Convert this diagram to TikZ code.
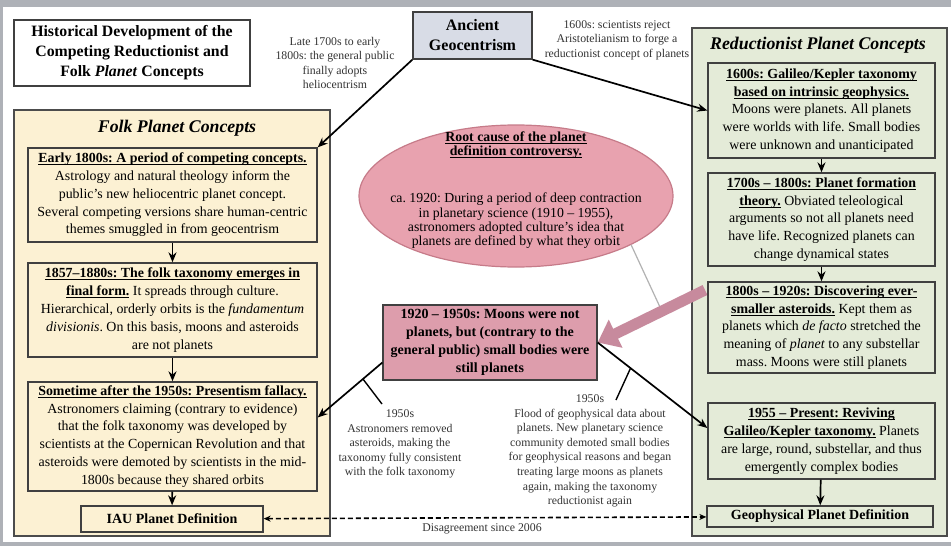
\documentclass[tikz,border=0pt]{standalone}
\usepackage{fontspec}
\setmainfont{Liberation Serif}
\usetikzlibrary{arrows.meta,shapes.geometric,calc}
\definecolor{frame}{HTML}{AEB1B7}
\definecolor{folk}{HTML}{FCF1D3}
\definecolor{redu}{HTML}{E4EBD8}
\definecolor{geocol}{HTML}{D8DCE6}
\definecolor{rose}{HTML}{E8A2AF}
\definecolor{roseline}{HTML}{C67B89}
\definecolor{rosebox}{HTML}{DD9DAC}
\definecolor{rosearrow}{HTML}{C78A9D}
\newsavebox{\hdbox}
\newcommand{\hd}[1]{\sbox{\hdbox}{\textbf{#1}}\rlap{\rule[-2.4pt]{\wd\hdbox}{0.8pt}}\usebox{\hdbox}}
\frenchspacing
\begin{document}
\begin{tikzpicture}[x=1pt,y=-1pt,
  panel/.style={draw=black!70,line width=1.2pt,inner sep=0pt},
  box/.style={draw=black!75,line width=1.3pt,align=center,inner sep=1.5pt,
    font=\fontsize{13.9}{17.8}\selectfont},
  folkbox/.style={box,fill=folk,minimum width=289},
  redubox/.style={box,fill=redu,minimum width=227},
  defbox/.style={box,font=\fontsize{14}{16}\selectfont\bfseries,inner sep=1pt},
  note/.style={align=center,text=black!80,font=\fontsize{11.8}{14.6}\selectfont},
  ptitle/.style={font=\fontsize{17.8}{20}\selectfont\bfseries\itshape},
  arr/.style={-{Stealth[length=10pt,width=8pt]},line width=1.7pt},
  tick/.style={line width=1.4pt}]
\fill[frame] (0,0) rectangle (951,546);
\fill[white] (3,7) rectangle (951,542);
\node[panel,fill=folk,minimum width=316,minimum height=426] (folk) at (172,323) {};
\node[panel,fill=redu,minimum width=255,minimum height=508] (redu) at (819.5,282) {};
\node[box,fill=white,minimum width=236,minimum height=66,
  font=\fontsize{15.8}{20}\selectfont\bfseries] (title) at (132,53)
  {Historical Development of the\\Competing Reductionist and\\Folk \textit{Planet} Concepts};
\node[box,fill=geocol,minimum width=119,minimum height=47,
  font=\fontsize{16}{20}\selectfont\bfseries] (geo) at (472.5,35.5) {Ancient\\Geocentrism};
\node[note] (adopt) at (335,63) {Late 1700s to early\\1800s: the general public\\finally adopts\\heliocentrism};
\node[note] (reject) at (617,40) {1600s: scientists reject\\Aristotelianism to forge a\\reductionist concept of planets};
\node[ptitle] (folkttl) at (177,128) {Folk Planet Concepts};
\node[ptitle] (reduttl) at (818,45) {Reductionist Planet Concepts};
\node[folkbox,minimum height=94] (f1) at (172.5,195)
  {\hd{Early 1800s: A period of competing concepts.}\\
   Astrology and natural theology inform the\\
   public's new heliocentric planet concept.\\
   Several competing versions share human-centric\\
   themes smuggled in from geocentrism};
\node[folkbox,minimum height=94] (f2) at (172.5,310)
  {\hd{1857–1880s: The folk taxonomy emerges in}\\
   \hd{final form.} It spreads through culture.\\
   Hierarchical, orderly orbits is the \textit{fundamentum}\\
   \textit{divisionis}. On this basis, moons and asteroids\\
   are not planets};
\node[folkbox,minimum height=109] (f3) at (172.5,436.5)
  {\hd{Sometime after the 1950s: Presentism fallacy.}\\
   Astronomers claiming (contrary to evidence)\\
   that the folk taxonomy was developed by\\
   scientists at the Copernican Revolution and that\\
   asteroids were demoted by scientists in the mid-\\
   1800s because they shared orbits};
\node[defbox,fill=folk,minimum width=182,minimum height=26] (iau) at (172,519) {IAU Planet Definition};
\coordinate (pk) at (705,290);
\coordinate (hit) at ($(pk)!0.4!(597,342.5)$);
\node[draw=roseline,line width=1.2pt,fill=rose,ellipse,minimum width=314,minimum height=142] (ell) at (516,196) {};
\node[align=center,font=\fontsize{13.8}{14.3}\selectfont] (elltxt) at (516,190)
  {\hd{Root cause of the planet}\\
   \hd{definition controversy.}\\[33pt]
   ca. 1920: During a period of deep contraction\\
   in planetary science (1910 – 1955),\\
   astronomers adopted culture's idea that\\
   planets are defined by what they orbit};
\draw[black!30,line width=1.2pt] (ell.-23) -- (hit);
\node[box,fill=rosebox,minimum width=214,minimum height=75,
  font=\fontsize{14}{17.8}\selectfont\bfseries] (mid) at (490,342.5)
  {1920 – 1950s: Moons were not\\planets, but (contrary to the\\general public) small bodies were\\still planets};
\draw[rosearrow,line width=11pt,-{Triangle[length=20pt,width=30pt]}] (pk) -- (mid.east);
\node[redubox,minimum height=95] (r1) at (821.5,110.5)
  {\hd{1600s: Galileo/Kepler taxonomy}\\
   \hd{based on intrinsic geophysics.}\\
   Moons were planets. All planets\\
   were worlds with life. Small bodies\\
   were unknown and unanticipated};
\node[redubox,minimum height=93] (r2) at (821.5,219.5)
  {\hd{1700s – 1800s: Planet formation}\\
   \hd{theory.} Obviated teleological\\
   arguments so not all planets need\\
   have life. Recognized planets can\\
   change dynamical states};
\node[redubox,minimum height=91] (r3) at (821.5,327.5)
  {\hd{1800s – 1920s: Discovering ever-}\\
   \hd{smaller asteroids.} Kept them as\\
   planets which \textit{de facto} stretched the\\
   meaning of \textit{planet} to any substellar\\
   mass. Moons were still planets};
\node[redubox,minimum height=76] (r4) at (821.5,441)
  {\hd{1955 – Present: Reviving}\\
   \hd{Galileo/Kepler taxonomy.} Planets\\
   are large, round, substellar, and thus\\
   emergently complex bodies};
\node[defbox,fill=redu,minimum width=226,minimum height=21] (gdef) at (820,516.5) {Geophysical Planet Definition};
\node[note] (removed) at (400,444) {1950s\\Astronomers removed\\asteroids, making the\\taxonomy fully consistent\\with the folk taxonomy};
\node[note] (flood) at (590,451) {1950s\\Flood of geophysical data about\\planets. New planetary science\\community demoted small bodies\\for geophysical reasons and began\\treating large moons as planets\\again, making the taxonomy\\reductionist again};
\node[note] (disagree) at (482,529) {Disagreement since 2006};
\coordinate (ml) at ([yshift=-20pt]mid.west);
\coordinate (f3e) at ([yshift=19pt]f3.east);
\coordinate (r4w) at ([yshift=13pt]r4.west);
\coordinate (t1) at (382,404);
\coordinate (t2) at (616,400);
\draw[arr] (geo.south west) -- (f1.north east);
\draw[arr] (geo.south east) -- (r1.west);
\draw[arr] (ml) -- (f3e);
\draw[arr] (mid.east) -- (r4w);
\draw[tick] ($(ml)!0.3!(f3e)$) -- (t1);
\draw[tick] ($(mid.east)!0.3!(r4w)$) -- (t2);
\draw[arr] (f1) -- (f2);
\draw[arr] (f2) -- (f3);
\draw[arr] (f3) -- (iau);
\draw[arr] (r1) -- (r2);
\draw[arr] (r2) -- (r3);
\draw[arr] (r4) -- (gdef);
\draw[{Stealth[length=7pt,width=6pt]}-{Stealth[length=7pt,width=6pt]},line width=1.6pt,dash pattern=on 5pt off 3pt] (iau) -- (gdef);
\end{tikzpicture}
\end{document}
